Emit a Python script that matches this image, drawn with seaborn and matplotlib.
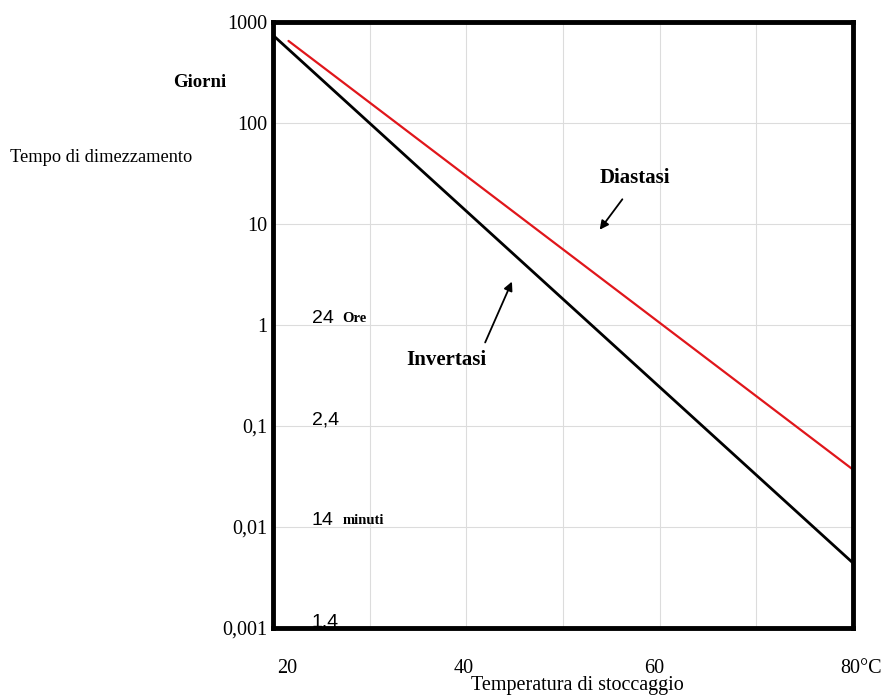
import numpy as np
import pandas as pd
import matplotlib
matplotlib.use("Agg")
import matplotlib.pyplot as plt
import matplotlib.transforms as mtransforms
import seaborn as sns

# data
temp_invertasi = [20, 80]
days_invertasi = [740, 0.0044]
temp_diastasi = [21.6, 80]
days_diastasi = [650, 0.037]

x_ticks = [20, 40, 60, 80]
x_tick_labels = ["20", "40", "60", "80°C"]
y_ticks = [1000, 100, 10, 1, 0.1, 0.01, 0.001]
y_tick_labels = ["1000", "100", "10", "1", "0,1", "0,01", "0,001"]

# hours/minutes equivalents written inside the plot
hour_values = [1, 0.1, 0.01, 0.001]
hour_labels = ["24", "2,4", "14", "1,4"]
hour_units = ["Ore", "", "minuti", ""]

df = pd.concat([
    pd.DataFrame({"temp": temp_invertasi, "days": days_invertasi, "enzima": "Invertasi"}),
    pd.DataFrame({"temp": temp_diastasi, "days": days_diastasi, "enzima": "Diastasi"}),
])

sns.set_style("white")
plt.rcParams["font.family"] = ["Liberation Serif", "DejaVu Serif"]
plt.rcParams["text.color"] = "black"
plt.rcParams["axes.labelcolor"] = "black"
plt.rcParams["xtick.color"] = "black"
plt.rcParams["ytick.color"] = "black"

fig = plt.figure(figsize=(8.87, 6.97), dpi=100)
ax = fig.add_axes([0.3078, 0.0990, 0.6539, 0.8694])

sns.lineplot(data=df[df.enzima == "Invertasi"], x="temp", y="days",
             color="black", linewidth=2.0, ax=ax)
sns.lineplot(data=df[df.enzima == "Diastasi"], x="temp", y="days",
             color="#e0161b", linewidth=1.6, ax=ax)

ax.set_yscale("log")
ax.set_xlim(20, 80)
ax.set_ylim(0.001, 1000)

ax.set_xticks(np.arange(20, 81, 10), minor=True)
ax.set_xticks(x_ticks)
ax.set_xticklabels(x_tick_labels)
ax.set_yticks(y_ticks)
ax.set_yticklabels(y_tick_labels)
ax.yaxis.set_minor_locator(matplotlib.ticker.NullLocator())

ax.grid(True, which="both", axis="x", color="#dcdcdc", linewidth=0.8)
ax.grid(True, which="major", axis="y", color="#dcdcdc", linewidth=0.8)
ax.set_axisbelow(True)

ax.tick_params(axis="both", which="both", length=0, labelsize=14.5)
ax.tick_params(axis="x", pad=22)
ax.tick_params(axis="y", pad=4)

# nudge the end labels like in the original
shifts = [14, -3, -6, 8]
for lab, dx in zip(ax.get_xticklabels(), shifts):
    lab.set_transform(lab.get_transform() +
                      mtransforms.ScaledTranslation(dx / 100, 0, fig.dpi_scale_trans))

for side in ["left", "right", "top", "bottom"]:
    ax.spines[side].set_visible(True)
    ax.spines[side].set_color("black")
    ax.spines[side].set_linewidth(3.5)

ax.set_ylabel("")
ax.set_xlabel("Temperatura di stoccaggio", fontsize=14.5)
ax.xaxis.set_label_coords(0.524, -0.079)

ax.text(-0.126, 0.901, "Giorni", transform=ax.transAxes, ha="center",
        va="center", fontsize=13.5, fontweight="bold")
ax.text(-0.2966, 0.777, "Tempo di dimezzamento", transform=ax.transAxes,
        ha="center", va="center", fontsize=13.2)

# equivalents in hours / minutes
for val, lab, unit in zip(hour_values, hour_labels, hour_units):
    ax.text(24.0, val * 1.15, lab, ha="left", va="center", fontsize=14,
            family=["Liberation Sans", "DejaVu Sans"])
    if unit:
        ax.text(27.2, val * 1.15, unit, ha="left", va="center",
                fontsize=10.5, fontweight="bold")

# curve labels with arrows
ax.text(57.45, 28.5, "Diastasi", ha="center", va="center", fontsize=15,
        fontweight="bold")
ax.annotate("", xy=(53.62, 8.34), xytext=(56.31, 18.5),
            arrowprops=dict(arrowstyle="-|>", color="black", lw=1.3,
                            mutation_scale=13))
ax.text(37.9, 0.45, "Invertasi", ha="center", va="center", fontsize=15,
        fontweight="bold")
ax.annotate("", xy=(44.83, 2.85), xytext=(41.83, 0.634),
            arrowprops=dict(arrowstyle="-|>", color="black", lw=1.3,
                            mutation_scale=13))

fig.savefig("out.png", dpi=100)
